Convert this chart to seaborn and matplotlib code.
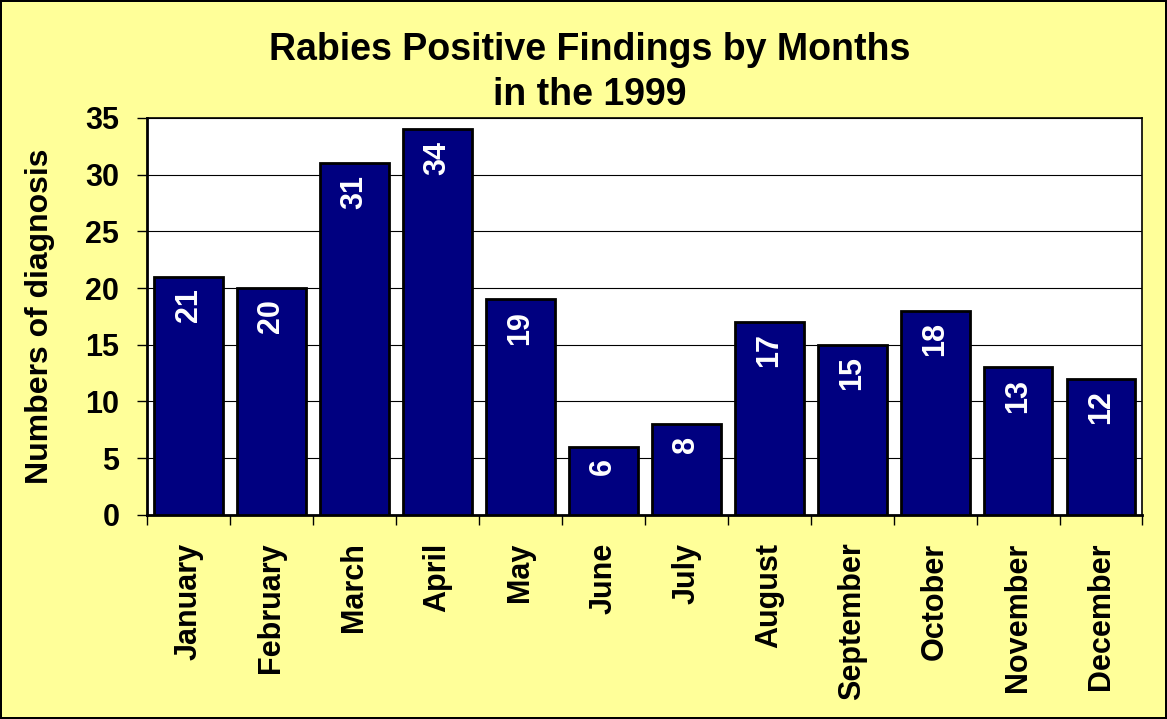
import matplotlib
matplotlib.use('Agg')
import matplotlib.pyplot as plt
import seaborn as sns
import pandas as pd

months = ['January', 'February', 'March', 'April', 'May', 'June', 'July',
          'August', 'September', 'October', 'November', 'December']
findings = [21, 20, 31, 34, 19, 6, 8, 17, 15, 18, 13, 12]
yticks = [0, 5, 10, 15, 20, 25, 30, 35]

df = pd.DataFrame({'month': months, 'count': findings})

sns.set_style('white')
plt.rcParams['font.family'] = ['Liberation Sans', 'DejaVu Sans']
plt.rcParams['font.weight'] = 'bold'
for key in ['text.color', 'axes.labelcolor', 'xtick.color', 'ytick.color']:
    plt.rcParams[key] = 'black'

fig = plt.figure(figsize=(11.67, 7.19), dpi=100, facecolor='#FFFF99',
                 edgecolor='black', linewidth=1.5)
ax = fig.add_axes([0.126, 0.284, 0.853, 0.552])
ax.set_facecolor('white')

sns.barplot(data=df, x='month', y='count', color='#000080', saturation=1,
            edgecolor='black', linewidth=2, width=0.83, ax=ax, zorder=3)

ax.set_ylim(0, 35)
ax.set_xlim(-0.5, len(months) - 0.5)
ax.set_yticks(yticks)
ax.set_yticklabels([str(t) for t in yticks], fontsize=22, fontweight='bold')
ax.yaxis.grid(True, color='black', linewidth=0.8, zorder=0)
ax.tick_params(axis='y', direction='out', length=7, width=1, left=True, pad=13)

# category labels between boundary tick marks
ax.set_xticks(range(len(months)))
ax.set_xticklabels(months, rotation=90, fontsize=22, fontweight='bold')
ax.tick_params(axis='x', which='major', length=0, pad=20)
ax.set_xticks([i - 0.5 for i in range(len(months) + 1)], minor=True)
ax.tick_params(axis='x', which='minor', direction='out', length=7, width=1, bottom=True)

for spine in ax.spines.values():
    spine.set_visible(True)
    spine.set_color('black')
    spine.set_linewidth(1.2)
ax.spines['left'].set_linewidth(2)
ax.spines['bottom'].set_linewidth(2)

for i, v in enumerate(findings):
    ax.text(i, v - 1.0, str(v), rotation=90, ha='center', va='top',
            color='white', fontsize=22, fontweight='bold', zorder=4)

ax.set_xlabel('')
ax.set_ylabel('Numbers of diagnosis', fontsize=23, fontweight='bold', labelpad=22)
fig.text(0.505, 0.955, 'Rabies Positive Findings by Months\nin the 1999',
         ha='center', va='top', fontsize=27, fontweight='bold', linespacing=1.3)

fig.savefig('out.png', dpi=100, facecolor=fig.get_facecolor(),
            edgecolor=fig.get_edgecolor())
